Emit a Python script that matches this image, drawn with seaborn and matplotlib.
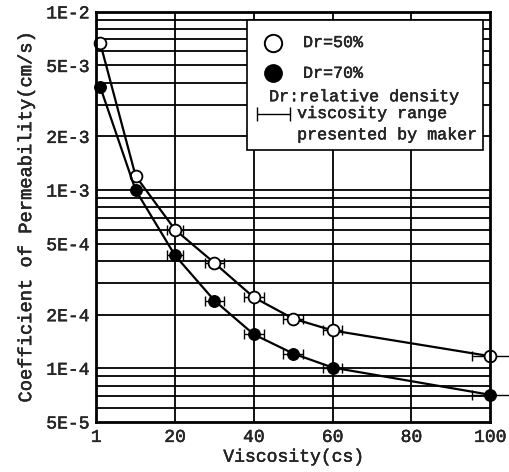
import numpy as np
import pandas as pd
import matplotlib
matplotlib.use('Agg')
import matplotlib.pyplot as plt
import matplotlib.patheffects as pe
import seaborn as sns
from matplotlib.patches import Rectangle

sns.set_style('white')
plt.rcParams['font.family'] = ['Liberation Mono', 'DejaVu Sans Mono']

# values
viscosity = [1, 10, 20, 30, 40, 50, 60, 100]
perm_dr50 = [6.7e-3, 1.2e-3, 6.0e-4, 3.9e-4, 2.5e-4, 1.9e-4, 1.63e-4, 1.17e-4]
perm_dr70 = [3.8e-3, 1.0e-3, 4.3e-4, 2.4e-4, 1.55e-4, 1.21e-4, 1.01e-4, 7.1e-5]
# viscosity range given by the maker (none for the first two fluids)
range_lo = [np.nan, np.nan, 18, 27.5, 37.5, 47.5, 57.5, 95.5]
range_hi = [np.nan, np.nan, 22, 32.5, 42.5, 52.5, 62.5, 105]

x_ticks = [0, 20, 40, 60, 80, 100]
x_ticklabels = ['1', '20', '40', '60', '80', '100']
y_ticks = [1e-2, 5e-3, 2e-3, 1e-3, 5e-4, 2e-4, 1e-4, 5e-5]
y_ticklabels = ['1E-2', '5E-3', '2E-3', '1E-3', '5E-4', '2E-4', '1E-4', '5E-5']

df = pd.DataFrame({'visc': viscosity, 'dr50': perm_dr50, 'dr70': perm_dr70,
                   'lo': range_lo, 'hi': range_hi})

fig = plt.figure(figsize=(5.09, 4.72), dpi=100)
ax = fig.add_axes([0.189, 0.106, 0.774, 0.869])
ax.set_yscale('log')
ax.set_xlim(0, 100)
ax.set_ylim(5e-5, 1e-2)

# semilog paper grid
for dec in [1e-5, 1e-4, 1e-3]:
    for m in range(1, 10):
        v = m * dec
        if 5e-5 < v < 1e-2:
            ax.axhline(v, color='black', lw=1.3, zorder=1)
for xv in [20, 40, 60, 80]:
    ax.axvline(xv, color='black', lw=1.3, zorder=1)

# horizontal ranges
for col in ['dr50', 'dr70']:
    ax.errorbar(df['visc'], df[col],
                xerr=[df['visc'] - df['lo'], df['hi'] - df['visc']],
                fmt='none', ecolor='black', elinewidth=1.0, capsize=3.5,
                capthick=1.0, zorder=3, clip_on=False)

sns.lineplot(data=df, x='visc', y='dr50', ax=ax, color='black', lw=1.6,
             marker='o', markersize=8.5, markerfacecolor='white',
             markeredgecolor='black', markeredgewidth=1.3, zorder=4,
             clip_on=False)
sns.lineplot(data=df, x='visc', y='dr70', ax=ax, color='black', lw=1.6,
             marker='o', markersize=8.5, markerfacecolor='black',
             markeredgecolor='black', zorder=4, clip_on=False)

# slightly heavier strokes, like the printed original
thick = [pe.withStroke(linewidth=0.3, foreground='black')]
fs = 12
ax.set_xticks(x_ticks)
ax.set_xticklabels(x_ticklabels, fontsize=13, path_effects=thick)
ax.set_yticks(y_ticks)
ax.set_yticklabels(y_ticklabels, fontsize=13, path_effects=thick)
ax.yaxis.set_minor_locator(matplotlib.ticker.NullLocator())
ax.tick_params(length=0, pad=5)
ax.set_xlabel('Viscosity(cs)', fontsize=13, labelpad=2, path_effects=thick)
ax.set_ylabel('Coefficient of Permeability(cm/s)', fontsize=13.5,
              labelpad=8, path_effects=thick)
for s in ax.spines.values():
    s.set_color('black')
    s.set_linewidth(2)
    s.set_zorder(6)

# legend box
ax.add_patch(Rectangle((0.383, 0.663), 0.599, 0.317, transform=ax.transAxes,
                       facecolor='white', edgecolor='black', lw=1.2,
                       zorder=5))
ax.plot([0.448], [0.925], transform=ax.transAxes, marker='o', ms=12.5,
        mfc='white', mec='black', mew=1.4, zorder=6)
ax.plot([0.448], [0.85], transform=ax.transAxes, marker='o', ms=12.5,
        mfc='black', mec='black', zorder=6)
ax.text(0.525, 0.925, 'Dr=50%', transform=ax.transAxes, va='center',
        fontsize=fs, zorder=7, path_effects=thick)
ax.text(0.525, 0.85, 'Dr=70%', transform=ax.transAxes, va='center',
        fontsize=fs, zorder=7, path_effects=thick)
ax.text(0.68, 0.793, 'Dr:relative density', transform=ax.transAxes,
        ha='center', va='center', fontsize=fs, zorder=7, path_effects=thick)
ax.errorbar([0.45], [0.752], xerr=[0.042], transform=ax.transAxes,
            fmt='none', ecolor='black', elinewidth=1.0, capsize=5,
            capthick=1.0, zorder=7)
ax.text(0.51, 0.752, 'viscosity range', transform=ax.transAxes,
        va='center', fontsize=fs, zorder=7, path_effects=thick)
ax.text(0.51, 0.700, 'presented by maker', transform=ax.transAxes,
        va='center', fontsize=fs, zorder=7, path_effects=thick)

fig.savefig('out.png', dpi=100)
